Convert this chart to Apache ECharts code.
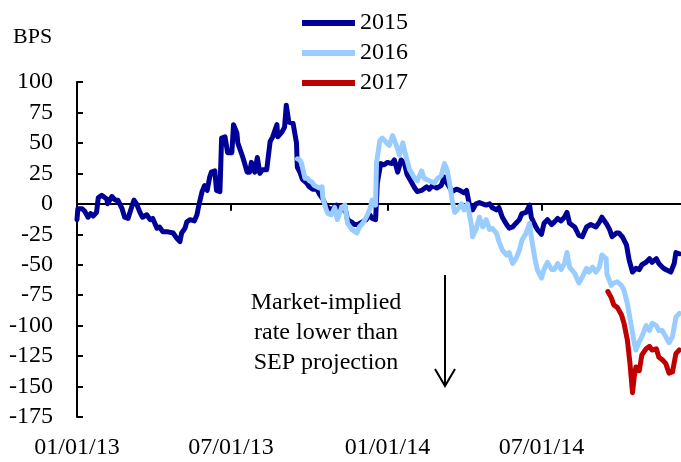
<!DOCTYPE html>
<html>
<head>
<meta charset="utf-8">
<script src="https://cdn.jsdelivr.net/npm/echarts@6/dist/echarts.min.js"></script>
<style>
  html, body { margin: 0; padding: 0; background: #fff; }
  #main { width: 681px; height: 462px; }
</style>
</head>
<body>
<div id="main"></div>
<script>
// x = days since 01/01/13, y = bps
var s2015 = [[0,-13],[1,-4],[6,-4],[9,-6],[13,-11],[16,-8],[19,-10],[23,-7],[25,5],[29,7],[35,4],[36,0],[41,6],[45,3],[48,3],[53,-4],[56,-11],[60,-12],[65,-1],[67,3],[70,0],[74,-7],[77,-11],[82,-9],[86,-13],[89,-12],[94,-20],[97,-19],[101,-23],[107,-23],[113,-24],[117,-28],[121,-31],[123,-24],[127,-20],[129,-15],[133,-13],[135,-12],[138,-14],[141,-9],[143,-2],[147,10],[150,15],[153,11],[156,22],[158,26],[162,27],[164,11],[168,10],[170,54],[174,55],[177,42],[182,42],[184,65],[188,58],[189,50],[191,51],[195,38],[200,26],[203,26],[205,34],[209,26],[212,38],[215,25],[218,28],[223,28],[227,51],[230,55],[235,65],[236,55],[241,59],[244,63],[246,81],[249,67],[254,66],[258,50],[259,30],[262,26],[265,20],[270,17],[273,14],[277,12],[282,12],[285,8],[289,4],[293,-2],[299,-5],[305,-1],[309,-6],[315,-3],[318,-13],[323,-15],[326,-17],[330,-17],[335,-15],[340,-13],[344,-9],[347,-12],[351,-13],[353,17],[357,33],[361,32],[365,34],[370,33],[373,36],[377,26],[381,36],[385,33],[388,24],[393,18],[397,13],[400,10],[405,11],[411,14],[414,12],[418,15],[423,13],[428,15],[432,22],[435,17],[441,10],[446,12],[450,11],[455,9],[458,11],[461,0],[465,-5],[469,0],[473,1],[477,0],[481,-1],[485,0],[488,-3],[493,-5],[496,-3],[500,-11],[505,-17],[508,-20],[512,-19],[516,-16],[520,-13],[523,-8],[528,-7],[532,-1],[534,-11],[538,-17],[541,-21],[546,-25],[549,-16],[553,-13],[558,-17],[561,-15],[565,-12],[569,-14],[573,-11],[576,-7],[579,-16],[585,-19],[590,-26],[594,-27],[599,-19],[604,-17],[610,-19],[614,-15],[617,-11],[622,-16],[626,-21],[629,-27],[634,-24],[637,-24],[641,-27],[646,-34],[649,-46],[653,-56],[657,-53],[661,-54],[664,-50],[669,-48],[673,-45],[676,-48],[681,-45],[684,-49],[688,-52],[692,-54],[698,-56],[702,-49],[704,-40],[708,-41]];

var s2016 = [[259,37],[262,36],[264,33],[268,21],[271,21],[273,19],[276,18],[279,15],[282,14],[285,13],[288,14],[289,5],[291,5],[293,-5],[295,-8],[299,-9],[303,-3],[306,-13],[311,-3],[315,-1],[318,-16],[323,-21],[329,-24],[332,-19],[336,-16],[340,-11],[344,-5],[347,3],[351,-1],[352,33],[356,52],[359,54],[364,50],[367,48],[371,56],[376,47],[379,40],[383,50],[387,38],[391,28],[397,21],[400,19],[405,27],[408,21],[414,19],[420,17],[424,21],[428,23],[432,33],[435,28],[438,17],[441,3],[444,-7],[447,-5],[452,0],[455,-5],[459,0],[464,-19],[465,-27],[469,-21],[473,-11],[477,-19],[481,-13],[485,-21],[488,-20],[493,-24],[496,-31],[500,-38],[505,-42],[508,-40],[512,-49],[516,-45],[520,-38],[523,-30],[528,-24],[532,-16],[534,-27],[538,-44],[541,-54],[546,-61],[549,-54],[553,-48],[558,-54],[561,-54],[565,-49],[569,-54],[573,-49],[576,-40],[579,-52],[585,-57],[590,-65],[594,-60],[599,-53],[602,-56],[606,-52],[610,-56],[614,-52],[617,-42],[622,-45],[623,-58],[628,-67],[631,-65],[635,-64],[640,-67],[643,-71],[647,-82],[651,-98],[655,-114],[657,-120],[661,-113],[664,-109],[669,-100],[673,-104],[676,-98],[681,-100],[684,-104],[688,-104],[692,-109],[696,-114],[700,-109],[704,-93],[708,-90]];

var s2017 = [[624,-72],[628,-77],[631,-83],[635,-85],[640,-91],[643,-98],[647,-112],[650,-131],[653,-155],[655,-142],[657,-134],[661,-137],[664,-124],[669,-119],[673,-117],[676,-120],[681,-119],[684,-126],[688,-128],[692,-131],[696,-139],[700,-138],[704,-123],[708,-120]];

var seriesNames = ['2015', '2016', '2017'];
var seriesColors = ['#000099', '#99CCFF', '#C00000'];
var xTickDays = [0, 181, 365, 546];
var xTickLabels = ['01/01/13', '07/01/13', '01/01/14', '07/01/14'];
var noteLines = ['Market-implied', 'rate lower than', 'SEP projection'];

var FONT = 'Liberation Serif';
var chart = echarts.init(document.getElementById('main'), null, { renderer: 'canvas' });

function mkSeries(name, data, color) {
  return {
    name: name,
    type: 'line',
    data: data,
    showSymbol: false,
    symbol: 'none',
    lineStyle: { width: 5, color: color, join: 'round', cap: 'round' },
    itemStyle: { color: color },
    animation: false
  };
}

var option = {
  animation: false,
  backgroundColor: '#fff',
  grid: { left: 77, right: 0, top: 82, bottom: 45 },
  legend: {
    data: seriesNames,
    orient: 'vertical',
    left: 297,
    top: 6,
    icon: 'rect',
    itemWidth: 53,
    itemHeight: 6,
    itemGap: 6,
    textStyle: { fontFamily: FONT, fontSize: 24, color: '#000' }
  },
  xAxis: [{
    type: 'value',
    min: 0,
    max: 710,
    axisLine: { onZero: true, lineStyle: { color: '#000', width: 2 } },
    axisTick: { show: true, customValues: xTickDays.slice(1), length: 7, lineStyle: { color: '#000', width: 2 } },
    axisLabel: { show: false },
    splitLine: { show: false }
  }, {
    type: 'value',
    min: 0,
    max: 710,
    position: 'bottom',
    axisLine: { show: false, onZero: false },
    axisTick: { show: false },
    axisLabel: {
      show: true,
      customValues: xTickDays,
      margin: 19,
      fontFamily: FONT,
      fontSize: 24,
      color: '#000',
      formatter: function (v) {
        var i = xTickDays.indexOf(v);
        return i >= 0 ? xTickLabels[i] : '';
      }
    },
    splitLine: { show: false }
  }],
  yAxis: {
    type: 'value',
    min: -175,
    max: 100,
    interval: 25,
    axisLine: { show: true, onZero: false, lineStyle: { color: '#000', width: 2 } },
    axisTick: { show: true, inside: true, length: 6, lineStyle: { color: '#000', width: 2 } },
    axisLabel: { margin: 24, fontFamily: FONT, fontSize: 24, color: '#000' },
    splitLine: { show: false }
  },
  graphic: [{
    type: 'text',
    left: 13,
    top: 26,
    style: { text: 'BPS', font: '22px "Liberation Serif"', fill: '#000' }
  }, {
    type: 'text',
    x: 326,
    y: 288,
    style: {
      text: noteLines.join('\n'),
      font: '24px "Liberation Serif"',
      lineHeight: 30,
      textAlign: 'center',
      fill: '#000'
    }
  }, {
    type: 'polyline',
    shape: { points: [[445, 275], [445, 386]] },
    style: { stroke: '#000', lineWidth: 2, fill: null }
  }, {
    type: 'polyline',
    shape: { points: [[435, 369], [445, 386], [455, 369]] },
    style: { stroke: '#000', lineWidth: 2, fill: null }
  }],
  series: [
    mkSeries(seriesNames[0], s2015, seriesColors[0]),
    mkSeries(seriesNames[1], s2016, seriesColors[1]),
    mkSeries(seriesNames[2], s2017, seriesColors[2])
  ]
};

chart.setOption(option);
</script>
</body>
</html>
